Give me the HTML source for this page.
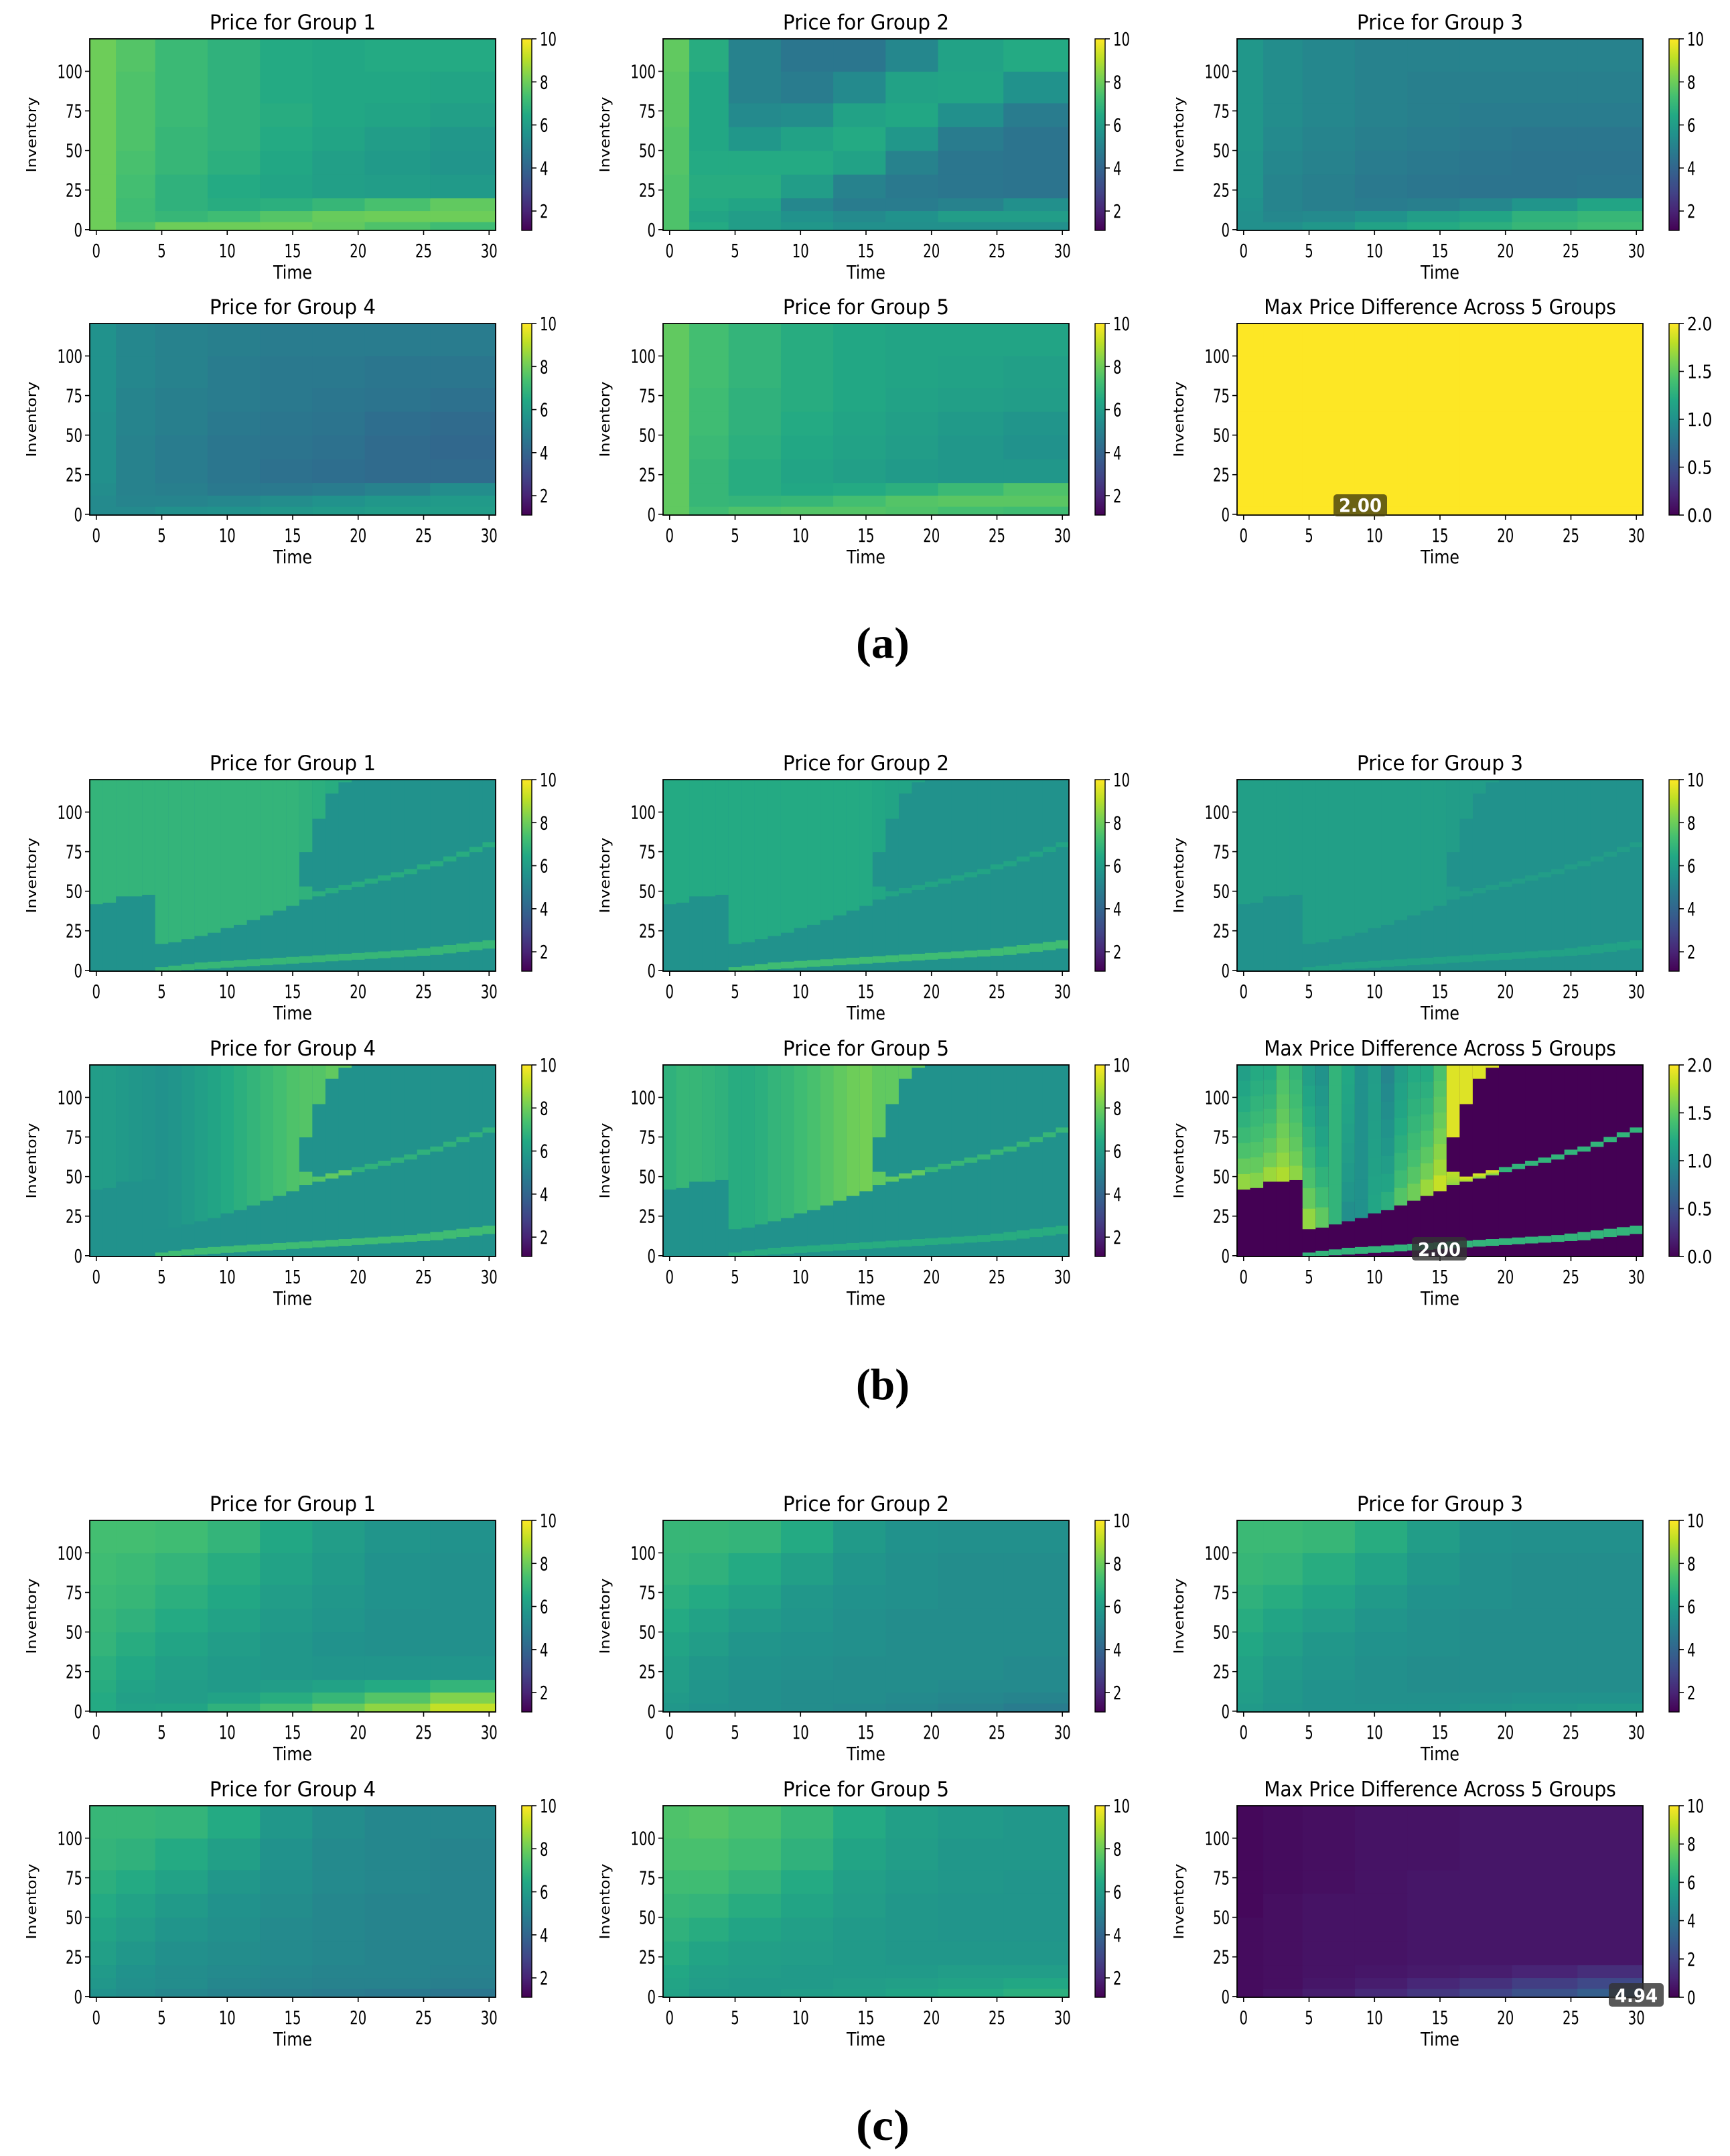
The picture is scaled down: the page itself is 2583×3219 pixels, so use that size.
<!DOCTYPE html>
<html><head><meta charset="utf-8"><title>Price heatmaps</title>
<style>html,body{margin:0;padding:0;background:#fff}svg{display:block}</style></head>
<body>
<svg id="fig" width="2583" height="3219" viewBox="0 0 2583 3219" xmlns="http://www.w3.org/2000/svg" font-family="DejaVu Sans, Liberation Sans, sans-serif">
<defs>
<linearGradient id="vir" x1="0" y1="1" x2="0" y2="0">
<stop offset="0" stop-color="#440154"/><stop offset="0.1" stop-color="#482475"/><stop offset="0.2" stop-color="#414487"/><stop offset="0.3" stop-color="#355f8d"/><stop offset="0.4" stop-color="#2a788e"/><stop offset="0.5" stop-color="#21918c"/><stop offset="0.6" stop-color="#22a884"/><stop offset="0.7" stop-color="#44bf70"/><stop offset="0.8" stop-color="#7ad151"/><stop offset="0.9" stop-color="#bddf26"/><stop offset="1" stop-color="#fde725"/>
</linearGradient>
</defs>
<rect width="2583" height="3219" fill="#fff"/>
</svg>
<script>
// ---------- data ----------
const timeEdges = [-0.5,1.5,4.5,8.5,12.5,16.5,20.5,25.5,30.5];
const invEdges = [-0.5,5,12,20,35,50,65,80,100,120.5];
const xTicks = [0,5,10,15,20,25,30];
const yTicks = [0,25,50,75,100];
const priceCbTicks = [2,4,6,8,10];
const diffCbTicks = ["0.0","0.5","1.0","1.5","2.0"];
const diffCbTicksC = [0,2,4,6,8,10];
// rows bottom -> top, columns = time groups
const gridA1 = [[8,7.5,8,8,8,7.8,7.5,7.2],[8,7.2,7,7.2,7.6,7.9,8,8],[8,7.2,6.8,6.6,6.7,7,7.4,7.8],[8,7.3,6.8,6.5,6.3,6.1,6,5.9],[8,7.4,7,6.7,6.4,6.1,5.9,5.7],[8,7.5,7,6.8,6.5,6.3,6,5.8],[8,7.5,7.1,6.8,6.6,6.4,6.3,6.1],[8,7.5,7.1,6.8,6.5,6.4,6.4,6.3],[8,7.6,7.1,6.8,6.5,6.4,6.5,6.5]];
const gridA2 = [[7.5,6.5,6,5.8,5.5,5.5,5.5,5.5],[7.5,6.3,6,5.6,5.3,5.6,6,6],[7.5,6.5,6.3,5.2,4.8,4.8,5,5.5],[7.5,6.6,6.6,6,5,4.7,4.6,4.5],[7.6,6.5,6.5,6.5,6.2,5,4.6,4.5],[7.6,6.4,5.8,6.2,6.5,5.8,4.8,4.5],[7.7,6.4,5.3,5.4,6.2,6.4,5.5,4.8],[7.7,6.4,5,4.8,5.3,6.2,6.3,5.6],[7.8,6.6,5,4.6,4.6,5.2,6.2,6.5]];
const gridA3 = [[5.5,5.5,5.8,6.2,6.5,6.7,7,7.2],[5.5,5.2,5.3,5.6,6,6.3,6.8,7],[5.6,5.1,4.9,4.8,4.9,5.2,5.7,6.3],[5.7,5.1,4.9,4.7,4.6,4.5,4.5,4.6],[5.7,5.2,5,4.8,4.7,4.6,4.5,4.5],[5.8,5.3,5.1,4.9,4.8,4.7,4.6,4.6],[5.8,5.4,5.2,5,4.9,4.8,4.8,4.8],[5.8,5.4,5.2,5,4.9,4.9,4.9,4.9],[5.8,5.4,5.2,5,5,5,5,5]];
const gridA4 = [[5.3,5.3,5.5,5.6,5.8,5.9,6,6],[5.3,5.1,5.1,5.2,5.4,5.6,5.8,5.9],[5.4,5,4.9,4.7,4.7,4.8,5,5.4],[5.5,5,4.8,4.6,4.4,4.3,4.2,4.2],[5.5,5,4.8,4.6,4.5,4.4,4.2,4.1],[5.5,5.1,4.9,4.7,4.6,4.5,4.3,4.2],[5.6,5.1,4.9,4.8,4.7,4.6,4.5,4.4],[5.6,5.2,5,4.8,4.7,4.7,4.6,4.6],[5.6,5.2,5,4.9,4.8,4.8,4.8,4.8]];
const gridA5 = [[7.8,7.2,7.5,7.6,7.6,7.5,7.3,7.2],[7.8,7,6.9,7,7.3,7.6,7.7,7.7],[7.8,7,6.6,6.4,6.5,6.7,7.1,7.5],[7.8,7,6.6,6.3,6.1,5.9,5.8,5.8],[7.8,7.1,6.7,6.4,6.2,6,5.8,5.6],[7.8,7.2,6.8,6.5,6.3,6.1,5.9,5.7],[7.8,7.2,6.8,6.6,6.4,6.2,6.1,6],[7.8,7.3,6.9,6.6,6.4,6.3,6.2,6.1],[7.8,7.3,6.9,6.6,6.4,6.3,6.3,6.3]];
const gridA6 = [[2,2,2,2,2,2,2,2],[2,2,2,2,2,2,2,2],[2,2,2,2,2,2,2,2],[2,2,2,2,2,2,2,2],[2,2,2,2,2,2,2,2],[2,2,2,2,2,2,2,2],[2,2,2,2,2,2,2,2],[2,2,2,2,2,2,2,2],[2,2,2,2,2,2,2,2]];
const gridC1 = [[6.5,6.2,6.3,6.8,7.3,7.9,8.5,9.2],[6.5,6.1,6,6.2,6.6,7,7.6,8.3],[6.6,6.2,6,5.9,6,6.2,6.5,6.9],[6.7,6.4,6.1,5.9,5.8,5.7,5.7,5.7],[6.9,6.6,6.3,6,5.8,5.6,5.5,5.5],[7,6.8,6.5,6.2,5.9,5.7,5.5,5.5],[7.1,7,6.7,6.4,6,5.8,5.6,5.5],[7.2,7.1,6.9,6.6,6.2,5.9,5.6,5.5],[7.3,7.3,7.2,6.9,6.4,6,5.7,5.6]];
const gridC2 = [[5.8,5.6,5.5,5.4,5.3,5.2,5,4.8],[5.9,5.7,5.5,5.4,5.4,5.3,5.2,5.1],[6,5.7,5.5,5.4,5.4,5.4,5.3,5.3],[6.1,5.8,5.6,5.5,5.4,5.4,5.4,5.3],[6.3,6,5.7,5.6,5.5,5.4,5.4,5.4],[6.5,6.2,5.9,5.7,5.5,5.4,5.4,5.4],[6.7,6.5,6.2,5.8,5.6,5.5,5.4,5.4],[6.9,6.8,6.5,6.1,5.7,5.5,5.4,5.4],[7,7,6.9,6.5,5.9,5.6,5.5,5.5]];
const gridC3 = [[5.9,5.7,5.6,5.6,5.6,5.7,5.8,5.9],[6,5.8,5.6,5.5,5.5,5.5,5.6,5.6],[6.1,5.8,5.6,5.5,5.4,5.4,5.4,5.4],[6.2,5.9,5.7,5.5,5.4,5.4,5.4,5.4],[6.4,6.1,5.8,5.6,5.5,5.4,5.4,5.4],[6.6,6.3,6,5.7,5.5,5.4,5.4,5.4],[6.8,6.6,6.3,5.9,5.6,5.5,5.4,5.4],[7,6.9,6.6,6.2,5.8,5.5,5.4,5.4],[7.1,7.1,7,6.6,6,5.6,5.5,5.5]];
const gridC4 = [[5.6,5.4,5.2,5,4.9,4.8,4.7,4.6],[5.8,5.5,5.4,5.2,5.1,5,5,4.9],[5.9,5.6,5.4,5.3,5.2,5.1,5.1,5],[6.1,5.8,5.5,5.4,5.3,5.2,5.1,5.1],[6.3,6,5.7,5.5,5.3,5.2,5.1,5.1],[6.5,6.2,5.9,5.6,5.4,5.2,5.1,5.1],[6.7,6.5,6.2,5.8,5.5,5.3,5.2,5.1],[6.9,6.8,6.5,6.1,5.6,5.3,5.2,5.1],[7,7,6.9,6.5,5.8,5.4,5.2,5.2]];
const gridC5 = [[6.2,5.9,5.9,6,6.1,6.3,6.5,6.7],[6.3,6,5.9,5.9,6,6.1,6.2,6.4],[6.4,6.1,6,5.9,5.9,5.9,6,6],[6.6,6.3,6.1,6,5.9,5.8,5.8,5.8],[6.8,6.6,6.3,6.1,5.9,5.8,5.7,5.7],[7,6.9,6.6,6.3,6,5.8,5.7,5.7],[7.2,7.2,6.9,6.5,6.1,5.9,5.8,5.7],[7.4,7.4,7.2,6.8,6.3,6,5.8,5.8],[7.5,7.6,7.4,7,6.5,6.1,5.9,5.8]];
const gridC6 = [[0.3,0.5,0.8,1.2,1.6,2,2.5,3],[0.3,0.4,0.6,0.8,1.1,1.4,1.8,2.2],[0.3,0.4,0.5,0.6,0.7,0.8,1,1.3],[0.3,0.4,0.5,0.5,0.6,0.6,0.6,0.6],[0.3,0.4,0.5,0.5,0.6,0.6,0.6,0.6],[0.2,0.4,0.5,0.5,0.6,0.6,0.6,0.6],[0.2,0.3,0.4,0.5,0.6,0.6,0.6,0.6],[0.2,0.3,0.4,0.5,0.5,0.6,0.6,0.6],[0.2,0.3,0.4,0.5,0.5,0.6,0.6,0.6]];
// row (b): per-column region boundaries, t = 0..30
const bandLo = [42,43,47,47,48,17,18,20,22,24,27,29,32,35,38,41,45,47,49,51,53,55,57,59,61,64,66,69,72,75,78];
const bandHi = [121,121,121,121,121,121,121,121,121,121,121,121,121,121,121,121,53,50,52,54,56,58,60,62,64,67,69,72,75,78,81];
const capLo = [121,121,121,121,121,121,121,121,121,121,121,121,121,121,121,121,75,96,112,119,121,121,121,121,121,121,121,121,121,121,121];
const stripLo = [null,null,null,null,null,0,0,0.5,1,1.5,2,2.5,3,3.5,4,4.5,5,5.5,6,6.5,7,7.5,8,8.5,9,9.5,10,11,12,13,14];
const stripHi = [null,null,null,null,null,2,3,4,5,5.5,6,6.5,7,7.5,8,8.5,9,9.5,10,10.5,11,11.5,12,12.5,13,14,15,16,17,18,19];
const greenB1 = [6.9,6.9,6.9,6.9,6.9,6.9,6.9,6.9,6.9,6.9,6.9,6.9,6.9,6.9,6.9,6.9,6.8,6.7,6.6,6.6,6.6,6.6,6.6,6.6,6.6,6.6,6.6,6.6,6.6,6.6,6.6];
const greenB2 = [6.5,6.5,6.5,6.5,6.5,6.5,6.5,6.5,6.5,6.5,6.5,6.5,6.5,6.5,6.5,6.5,6.4,6.3,6.3,6.3,6.3,6.3,6.3,6.3,6.3,6.3,6.3,6.3,6.3,6.3,6.3];
const greenB3 = [6.1,6.1,6.1,6.1,6.1,6.1,6.1,6.1,6.1,6.1,6.1,6.1,6.1,6.1,6.1,6.1,6,6,6,6,6,6,6,6,6,6,6,6,6,6,6];
const greenB4 = [6,6,5.9,5.8,5.7,5.6,5.7,5.9,6.1,6.3,6.5,6.7,6.9,7.1,7.3,7.5,7.6,7.6,7.8,7.8,6.8,6.8,6.8,6.8,6.8,6.8,6.8,6.8,6.8,6.8,6.8];
const greenB5 = [6.8,7,7,6.9,6.8,6.6,6.6,6.7,6.9,7,7.2,7.4,7.6,7.8,8,8.1,7.8,7.8,7.8,7.8,7,7,7,7,7,7,7,7,7,7,7];
const stripVals = [7,7.2,6.2,7.2,6.6];
const tealVals = [5.6,5.6,5.6,5.6,5.6];
const diffTop = [1.1,1.2,1.2,1.4,1.3,1.1,1.0,1.3,1.2,1.0,1.1,0.9,1.1,1.2,1.2,1.4,1.8,1.9,1.9,1.9,1.3,1.3,1.3,1.3,1.3,1.3,1.3,1.3,1.3,1.3,1.3];
const diffBot = [1.9,1.8,1.9,1.9,1.8,1.9,1.7,1.3,0.9,1.0,1.2,1.4,1.6,1.7,1.9,2.0,1.6,1.6,1.5,1.4,1.3,1.3,1.3,1.3,1.3,1.3,1.3,1.3,1.3,1.3,1.3];
const diffStrip = 1.3;

// ---------- layout ----------
const COLX = [134, 990, 1847];
const ROWY = [58, 483, 1164, 1590, 2270, 2696];
const W = 606, H = 286;
const NS = 'http://www.w3.org/2000/svg';
const svg = document.getElementById('fig');
const VSTOPS = ['#440154','#482475','#414487','#355f8d','#2a788e','#21918c','#22a884','#44bf70','#7ad151','#bddf26','#fde725'];
function hex(c){return [parseInt(c.substr(1,2),16),parseInt(c.substr(3,2),16),parseInt(c.substr(5,2),16)];}
function viridis(f){f=Math.max(0,Math.min(1,f));const p=f*10;const i=Math.min(9,Math.floor(p));const r=p-i;const a=hex(VSTOPS[i]),b=hex(VSTOPS[i+1]);return 'rgb('+a.map((v,k)=>Math.round(v+(b[k]-v)*r)).join(',')+')';}
function el(tag, attrs, parent){const e=document.createElementNS(NS,tag);for(const k in attrs)e.setAttribute(k,attrs[k]);(parent||svg).appendChild(e);return e;}

function makeAxes(x0,y0,vmin,vmax){
  return {
    sx: t => x0 + (t + 0.5) / 31 * W,
    sy: v => y0 + H - (v + 0.5) / 121 * H,
    col: v => viridis((v - vmin) / (vmax - vmin))
  };
}
function cell(g, ax, t0, t1, v0, v1, val, name){
  const x = ax.sx(t0), x2 = ax.sx(t1), y = ax.sy(v1), y2 = ax.sy(v0);
  const r = el('rect',{x:x.toFixed(2),y:y.toFixed(2),width:(x2-x+0.6).toFixed(2),height:(y2-y+0.6).toFixed(2),fill:ax.col(val)},g);
  
  
}
function clip(v){return Math.max(-0.5,Math.min(120.5,v));}

function drawFrame(g, x0, y0, title, cbTicks, vmin, vmax){
  const fr = el('rect',{x:x0,y:y0,width:W,height:H,fill:'none',stroke:'#000','stroke-width':1.8},g);
   
  const ax = makeAxes(x0,y0,vmin,vmax);
  const t = el('text',{x:x0+W/2,y:y0-14,'text-anchor':'middle','font-size':31,textLength:title.length*14.6,lengthAdjust:'spacingAndGlyphs'},g);
  t.textContent = title;  
  xTicks.forEach(v=>{
    const x = ax.sx(v);
    el('line',{x1:x,y1:y0+H,x2:x,y2:y0+H+7,stroke:'#000','stroke-width':1.6},g);
    const s=String(v);
    const tx = el('text',{x:x,y:y0+H+40,'text-anchor':'middle','font-size':28,textLength:s.length*12.5,lengthAdjust:'spacingAndGlyphs'},g);
    tx.textContent=s;  
  });
  yTicks.forEach(v=>{
    const y = ax.sy(v);
    el('line',{x1:x0-7,y1:y,x2:x0,y2:y,stroke:'#000','stroke-width':1.6},g);
    const s=String(v);
    const ty = el('text',{x:x0-11,y:y+10,'text-anchor':'end','font-size':28,textLength:s.length*12.5,lengthAdjust:'spacingAndGlyphs'},g);
    ty.textContent=s;  
  });
  const xl = el('text',{x:x0+W/2,y:y0+H+72,'text-anchor':'middle','font-size':28,textLength:58,lengthAdjust:'spacingAndGlyphs'},g);
  xl.textContent='Time';  
  const yl = el('text',{x:0,y:0,'text-anchor':'middle','font-size':20,textLength:113,lengthAdjust:'spacingAndGlyphs',transform:'translate('+(x0-80)+','+(y0+H/2)+') rotate(-90)'},g);
  yl.textContent='Inventory';  
  // colorbar
  const cx = x0 + 645;
  const cb = el('rect',{x:cx,y:y0,width:15,height:H,fill:'url(#vir)',stroke:'#000','stroke-width':1.4},g);
   
  cbTicks.forEach(s=>{
    const v = parseFloat(s);
    const y = y0 + H - (v - vmin)/(vmax - vmin)*H;
    el('line',{x1:cx+15,y1:y,x2:cx+22,y2:y,stroke:'#000','stroke-width':1.6},g);
    const lbl=String(s);
    const c = el('text',{x:cx+27,y:y+10,'font-size':28,textLength:lbl.length*12.5,lengthAdjust:'spacingAndGlyphs'},g);
    c.textContent=lbl;  
  });
  return ax;
}

function gridPanel(ci, ri, title, grid, vmin, vmax, cbTicks){
  const g = el('g',{});
  
  
  const x0=COLX[ci], y0=ROWY[ri];
  const ax = makeAxes(x0,y0,vmin,vmax);
  grid.forEach((row,r)=>row.forEach((v,c)=>{
    cell(g, ax, timeEdges[c], timeEdges[c+1], invEdges[r], invEdges[r+1], v, 'heatmap-cell');
  }));
  drawFrame(g,x0,y0,title,cbTicks,vmin,vmax);
}

function regionPanel(ci, ri, title, green, teal, strip, isDiff){
  const g = el('g',{});
  
  
  const x0=COLX[ci], y0=ROWY[ri];
  const vmin = isDiff?0:1.1, vmax = isDiff?2:10;
  const ax = makeAxes(x0,y0,vmin,vmax);
  for(let t=0;t<31;t++){
    cell(g, ax, t-0.5, t+0.5, -0.5, 120.5, isDiff?0:teal, 'heatmap-cell');
    const lo=bandLo[t], hi=Math.min(bandHi[t],120.5);
    if(isDiff){
      const n=8;
      for(let k=0;k<n;k++){
        const a=lo+(hi-lo)*k/n, b=lo+(hi-lo)*(k+1)/n;
        const f=Math.pow((k+0.5)/n,0.45);
        cell(g, ax, t-0.5, t+0.5, clip(a), clip(b), diffBot[t]+(diffTop[t]-diffBot[t])*f, 'heatmap-cell');
      }
    } else {
      cell(g, ax, t-0.5, t+0.5, clip(lo), clip(hi), green[t], 'heatmap-cell');
    }
    if(capLo[t]<120.5){
      cell(g, ax, t-0.5, t+0.5, capLo[t], 120.5, isDiff?1.9:green[t], 'heatmap-cell');
    }
    if(stripLo[t]!==null){
      cell(g, ax, t-0.5, t+0.5, clip(stripLo[t]), stripHi[t], isDiff?diffStrip:strip, 'heatmap-cell');
    }
  }
  drawFrame(g,x0,y0,title,isDiff?diffCbTicks:priceCbTicks,vmin,vmax);
}

function badge(x,y,w,h,fill,txt,name){
  const g = el('g',{});
  
  
  el('rect',{x:x,y:y,width:w,height:h,rx:5,fill:fill,'fill-opacity':0.82},g);
  const t = el('text',{x:x+w/2,y:y+h-7,'text-anchor':'middle','font-size':28,'font-weight':'bold',fill:'#fff',textLength:64,lengthAdjust:'spacingAndGlyphs'},g);
  t.textContent = txt;
}
function subLabel(y, s, name){
  const t = el('text',{x:1318,y:y,'text-anchor':'middle','font-family':'Liberation Serif, serif','font-size':66,'font-weight':'bold',textLength:80,lengthAdjust:'spacingAndGlyphs'});
  t.textContent = s;
  
  
}

// (a)
gridPanel(0,0,'Price for Group 1',gridA1,1.1,10,priceCbTicks);
gridPanel(1,0,'Price for Group 2',gridA2,1.1,10,priceCbTicks);
gridPanel(2,0,'Price for Group 3',gridA3,1.1,10,priceCbTicks);
gridPanel(0,1,'Price for Group 4',gridA4,1.1,10,priceCbTicks);
gridPanel(1,1,'Price for Group 5',gridA5,1.1,10,priceCbTicks);
gridPanel(2,1,'Max Price Difference Across 5 Groups',gridA6,0,2,diffCbTicks);
badge(1991,738,80,33,'#4a4410','2.00','max-diff-annotation-a');
subLabel(982,'(a)','subfigure-label-a');
// (b)
regionPanel(0,2,'Price for Group 1',greenB1,tealVals[0],stripVals[0],false);
regionPanel(1,2,'Price for Group 2',greenB2,tealVals[1],stripVals[1],false);
regionPanel(2,2,'Price for Group 3',greenB3,tealVals[2],stripVals[2],false);
regionPanel(0,3,'Price for Group 4',greenB4,tealVals[3],stripVals[3],false);
regionPanel(1,3,'Price for Group 5',greenB5,tealVals[4],stripVals[4],false);
regionPanel(2,3,'Max Price Difference Across 5 Groups',null,0,0,true);
badge(2108,1847,82,35,'#333333','2.00','max-diff-annotation-b');
subLabel(2089,'(b)','subfigure-label-b');
// (c)
gridPanel(0,4,'Price for Group 1',gridC1,1.1,10,priceCbTicks);
gridPanel(1,4,'Price for Group 2',gridC2,1.1,10,priceCbTicks);
gridPanel(2,4,'Price for Group 3',gridC3,1.1,10,priceCbTicks);
gridPanel(0,5,'Price for Group 4',gridC4,1.1,10,priceCbTicks);
gridPanel(1,5,'Price for Group 5',gridC5,1.1,10,priceCbTicks);
gridPanel(2,5,'Max Price Difference Across 5 Groups',gridC6,0,10,diffCbTicksC);
badge(2402,2961,82,35,'#333333','4.94','max-diff-annotation-c');
subLabel(3195,'(c)','subfigure-label-c');
</script>
</body></html>
